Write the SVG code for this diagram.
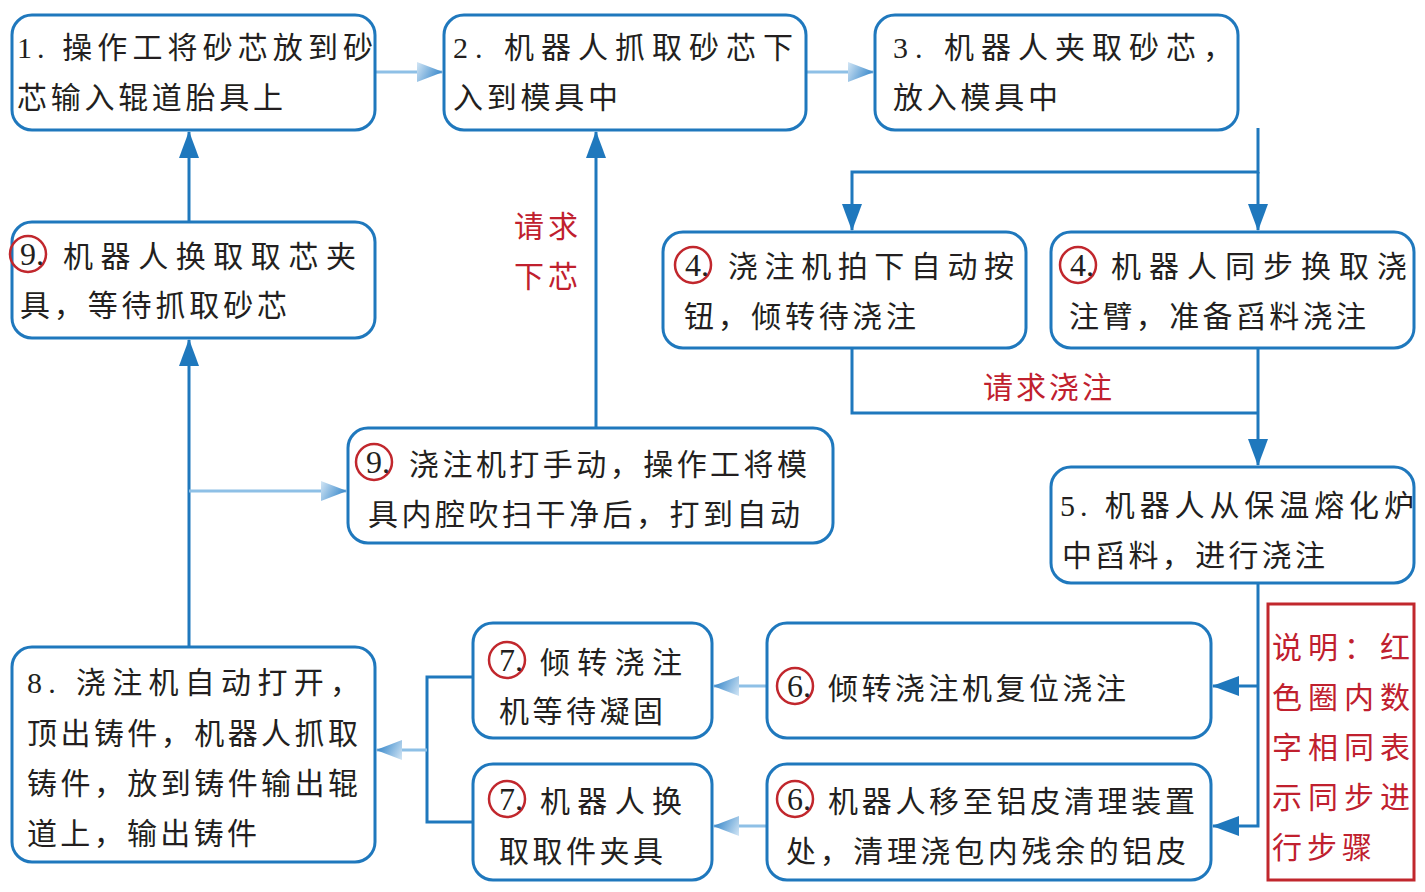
<svg xmlns="http://www.w3.org/2000/svg" width="1425" height="892" viewBox="0 0 1425 892">
<style>
.box{fill:#fff;stroke:#1f78bd;stroke-width:3}
.t{font-family:'Liberation Serif','Noto Sans CJK SC',serif;font-size:30px;fill:#231f20}
.d{font-size:32px}
.r{fill:#c0202e}
.c{fill:none;stroke:#c1272d;stroke-width:2.5}
.dk{fill:none;stroke:#1f78bd;stroke-width:3}
.lt{fill:none;stroke:#8ec0e6;stroke-width:3}
.note{fill:#fff;stroke:#c1272d;stroke-width:3}
</style>
<defs>
<linearGradient id="lg" x1="0" y1="0" x2="1" y2="0.4">
<stop offset="0" stop-color="#d3e6f5"/>
<stop offset="1" stop-color="#3d8bcc"/>
</linearGradient>
<marker id="ad" viewBox="0 0 27 20" refX="26" refY="10" markerWidth="27" markerHeight="20" markerUnits="userSpaceOnUse" orient="auto">
<path d="M0,0 L27,10 L0,20 Z" fill="#1f78bd"/>
</marker>
<marker id="al" viewBox="0 0 26 20" refX="25" refY="10" markerWidth="26" markerHeight="20" markerUnits="userSpaceOnUse" orient="auto">
<path d="M0,0 L26,10 L0,20 Z" fill="url(#lg)"/>
</marker>
</defs>
<rect width="1425" height="892" fill="#fff"/>

<g id="connectors">
<path class="dk" d="M189 222 V132" marker-end="url(#ad)"/>
<path class="dk" d="M189 647 V340" marker-end="url(#ad)"/>
<path class="dk" d="M596 428 V132" marker-end="url(#ad)"/>
<path class="dk" d="M1258 128 V172 H852 V230" marker-end="url(#ad)"/>
<path class="dk" d="M1258 172 V230" marker-end="url(#ad)"/>
<path class="dk" d="M852 348 V413 H1258"/>
<path class="dk" d="M1258 348 V465" marker-end="url(#ad)"/>
<path class="dk" d="M1258 583 V826 H1213" marker-end="url(#ad)"/>
<path class="dk" d="M1258 686 H1213" marker-end="url(#ad)"/>
<path class="dk" d="M473 677 H427 V822 H473"/>
<path class="lt" d="M375 72 H442" marker-end="url(#al)"/>
<path class="lt" d="M806 72 H873" marker-end="url(#al)"/>
<path class="lt" d="M189 491 H346" marker-end="url(#al)"/>
<path class="lt" d="M767 686 H714" marker-end="url(#al)"/>
<path class="lt" d="M767 826 H714" marker-end="url(#al)"/>
<path class="lt" d="M427 750 H377" marker-end="url(#al)"/>
<text class="t r" x="514" y="237" textLength="64" lengthAdjust="spacing">请求</text>
<text class="t r" x="514" y="287" textLength="64" lengthAdjust="spacing">下芯</text>
<text class="t r" x="983" y="398" textLength="129" lengthAdjust="spacing">请求浇注</text>
</g>

<g id="n1">
<rect class="box" x="12" y="15" width="363" height="115" rx="20"/>
<text class="t" x="17" y="58" textLength="356" lengthAdjust="spacing">1. 操作工将砂芯放到砂</text>
<text class="t" x="17" y="108" textLength="266" lengthAdjust="spacing">芯输入辊道胎具上</text>
</g>
<g id="n2">
<rect class="box" x="444" y="15" width="362" height="115" rx="20"/>
<text class="t" x="453" y="58" textLength="340" lengthAdjust="spacing">2. 机器人抓取砂芯下</text>
<text class="t" x="453" y="108" textLength="165" lengthAdjust="spacing">入到模具中</text>
</g>
<g id="n3">
<rect class="box" x="875" y="15" width="363" height="115" rx="20"/>
<text class="t" x="893" y="58" textLength="340" lengthAdjust="spacing">3. 机器人夹取砂芯，</text>
<text class="t" x="893" y="108" textLength="165" lengthAdjust="spacing">放入模具中</text>
</g>
<g id="n9a">
<rect class="box" x="12" y="222" width="363" height="116" rx="20"/>
<circle class="c" cx="28" cy="254" r="18"/>
<text class="t d" x="20" y="265">9.</text>
<text class="t" x="63" y="267" textLength="293" lengthAdjust="spacing">机器人换取取芯夹</text>
<text class="t" x="20" y="316" textLength="267" lengthAdjust="spacing">具，等待抓取砂芯</text>
</g>
<g id="n4a">
<rect class="box" x="663" y="232" width="363" height="116" rx="20"/>
<circle class="c" cx="693" cy="265" r="18"/>
<text class="t d" x="685" y="276">4.</text>
<text class="t" x="728" y="277" textLength="286" lengthAdjust="spacing">浇注机拍下自动按</text>
<text class="t" x="684" y="327" textLength="232" lengthAdjust="spacing">钮，倾转待浇注</text>
</g>
<g id="n4b">
<rect class="box" x="1051" y="232" width="363" height="116" rx="20"/>
<circle class="c" cx="1078" cy="265" r="18"/>
<text class="t d" x="1070" y="276">4.</text>
<text class="t" x="1111" y="277" textLength="296" lengthAdjust="spacing">机器人同步换取浇</text>
<text class="t" x="1069" y="327" textLength="297" lengthAdjust="spacing">注臂，准备舀料浇注</text>
</g>
<g id="n9b">
<rect class="box" x="348" y="428" width="485" height="115" rx="20"/>
<circle class="c" cx="374" cy="462" r="18"/>
<text class="t d" x="366" y="473">9.</text>
<text class="t" x="409" y="475" textLength="398" lengthAdjust="spacing">浇注机打手动，操作工将模</text>
<text class="t" x="368" y="525" textLength="432" lengthAdjust="spacing">具内腔吹扫干净后，打到自动</text>
</g>
<g id="n5">
<rect class="box" x="1051" y="467" width="363" height="116" rx="20"/>
<text class="t" x="1060" y="516" textLength="354" lengthAdjust="spacing">5. 机器人从保温熔化炉</text>
<text class="t" x="1062" y="566" textLength="263" lengthAdjust="spacing">中舀料，进行浇注</text>
</g>
<g id="n8">
<rect class="box" x="12" y="647" width="363" height="215" rx="20"/>
<text class="t" x="27" y="693" textLength="333" lengthAdjust="spacing">8. 浇注机自动打开，</text>
<text class="t" x="27" y="744" textLength="331" lengthAdjust="spacing">顶出铸件，机器人抓取</text>
<text class="t" x="27" y="794" textLength="331" lengthAdjust="spacing">铸件，放到铸件输出辊</text>
<text class="t" x="27" y="844" textLength="230" lengthAdjust="spacing">道上，输出铸件</text>
</g>
<g id="n7a">
<rect class="box" x="473" y="623" width="239" height="115" rx="20"/>
<circle class="c" cx="507" cy="660" r="18"/>
<text class="t d" x="499" y="671">7.</text>
<text class="t" x="540" y="673" textLength="142" lengthAdjust="spacing">倾转浇注</text>
<text class="t" x="499" y="722" textLength="164" lengthAdjust="spacing">机等待凝固</text>
</g>
<g id="n7b">
<rect class="box" x="473" y="764" width="239" height="116" rx="20"/>
<circle class="c" cx="507" cy="799" r="18"/>
<text class="t d" x="499" y="810">7.</text>
<text class="t" x="540" y="812" textLength="142" lengthAdjust="spacing">机器人换</text>
<text class="t" x="499" y="862" textLength="164" lengthAdjust="spacing">取取件夹具</text>
</g>
<g id="n6a">
<rect class="box" x="767" y="623" width="444" height="115" rx="20"/>
<circle class="c" cx="795" cy="686" r="18"/>
<text class="t d" x="787" y="697">6.</text>
<text class="t" x="828" y="699" textLength="298" lengthAdjust="spacing">倾转浇注机复位浇注</text>
</g>
<g id="n6b">
<rect class="box" x="767" y="764" width="444" height="116" rx="20"/>
<circle class="c" cx="795" cy="799" r="18"/>
<text class="t d" x="787" y="810">6.</text>
<text class="t" x="828" y="812" textLength="367" lengthAdjust="spacing">机器人移至铝皮清理装置</text>
<text class="t" x="786" y="862" textLength="400" lengthAdjust="spacing">处，清理浇包内残余的铝皮</text>
</g>
<g id="note">
<rect class="note" x="1268" y="604" width="146" height="276"/>
<text class="t r" x="1272" y="658" textLength="138" lengthAdjust="spacing">说明：红</text>
<text class="t r" x="1272" y="708" textLength="138" lengthAdjust="spacing">色圈内数</text>
<text class="t r" x="1272" y="758" textLength="138" lengthAdjust="spacing">字相同表</text>
<text class="t r" x="1272" y="808" textLength="138" lengthAdjust="spacing">示同步进</text>
<text class="t r" x="1272" y="858" textLength="100" lengthAdjust="spacing">行步骤</text>
</g>
</svg>
